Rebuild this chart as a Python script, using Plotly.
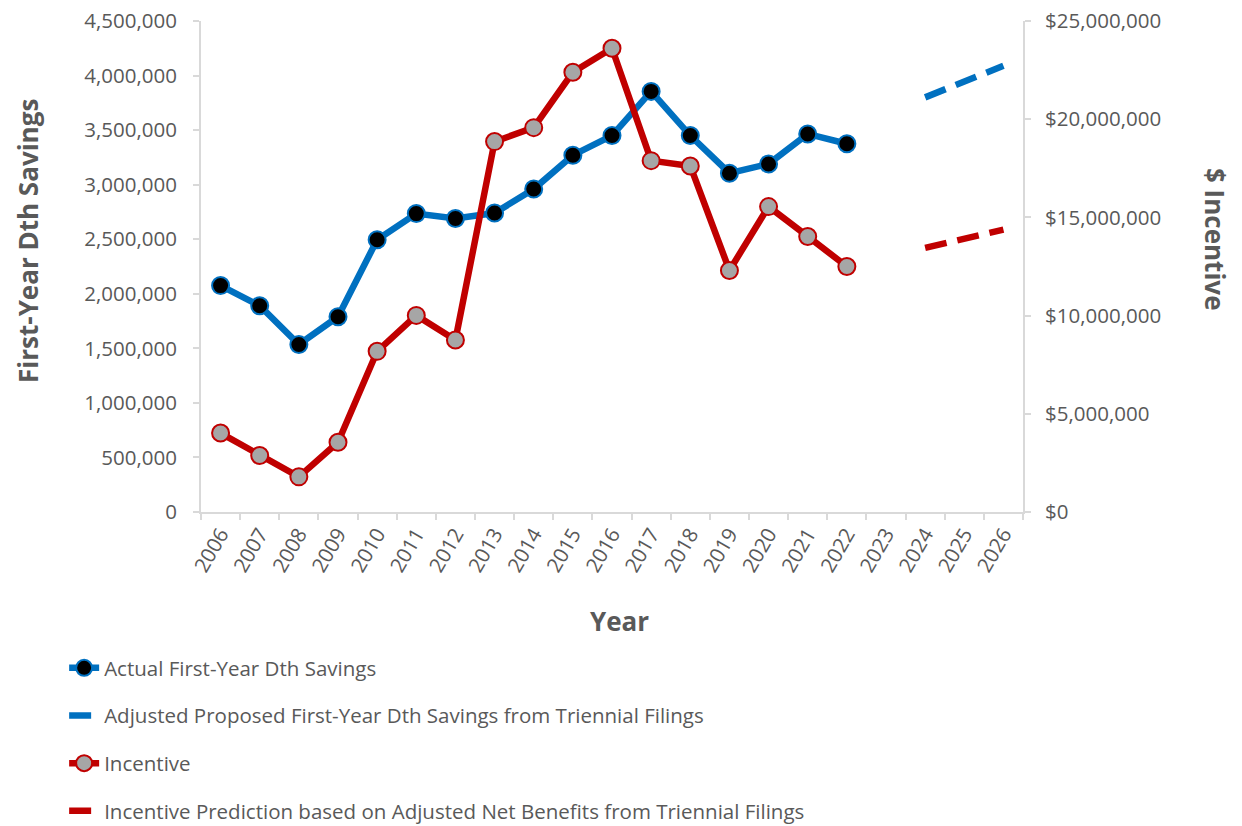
import plotly.graph_objects as go

# Category axis: program years
years = [str(y) for y in range(2006, 2027)]

# Actual first-year Dth savings (left axis)
actual_years = [str(y) for y in range(2006, 2023)]
actual_savings = [2075000, 1890000, 1535000, 1790000, 2495000, 2735000, 2690000,
                  2740000, 2960000, 3270000, 3450000, 3855000, 3450000, 3105000,
                  3190000, 3465000, 3375000]

# Adjusted proposed savings from triennial filings (left axis)
proposed_years = ["2024", "2025", "2026"]
proposed_savings = [3800000, 3940000, 4090000]

# Incentive earned (right axis, dollars)
incentive = [4020000, 2880000, 1790000, 3550000, 8180000, 10010000, 8760000,
             18860000, 19570000, 22390000, 23610000, 17890000, 17620000,
             12300000, 15550000, 14030000, 12500000]

# Incentive prediction from triennial filings (right axis, dollars)
incentive_pred = [13450000, 13900000, 14380000]

BLUE = "#0070C0"
RED = "#C00000"
GRAY_TXT = "#595959"
AXIS = "#D9D9D9"
FONT = "Open Sans"
TICK_FONT = dict(family=FONT, size=20.5, color=GRAY_TXT)
TITLE_FONT = dict(family=FONT, size=26, color=GRAY_TXT)
LW = 6.5

fig = go.Figure()

fig.add_trace(go.Scatter(
    x=actual_years, y=actual_savings, name="Actual First-Year Dth Savings",
    mode="lines+markers", legendgroup="a",
    line=dict(color=BLUE, width=LW),
    marker=dict(color="black", size=17, line=dict(color=BLUE, width=2)),
))
fig.add_trace(go.Scatter(
    x=proposed_years, y=proposed_savings,
    name="Adjusted Proposed First-Year Dth Savings from Triennial Filings",
    mode="lines", legendgroup="b",
    line=dict(color=BLUE, width=LW, dash="22px,11px"),
))
fig.add_trace(go.Scatter(
    x=actual_years, y=incentive, name="Incentive", yaxis="y2",
    mode="lines+markers", legendgroup="c",
    line=dict(color=RED, width=LW),
    marker=dict(color="#A6A6A6", size=17, line=dict(color=RED, width=2)),
))
fig.add_trace(go.Scatter(
    x=proposed_years, y=incentive_pred,
    name="Incentive Prediction based on Adjusted Net Benefits from Triennial Filings",
    yaxis="y2", mode="lines", legendgroup="d",
    line=dict(color=RED, width=LW, dash="22px,11px"),
))

axis_common = dict(
    ticks="outside", ticklen=6, tickcolor=AXIS, tickwidth=2,
    showline=True, linecolor=AXIS, linewidth=2,
    showgrid=False, zeroline=False, automargin=False,
    tickfont=TICK_FONT,
)

fig.update_layout(
    width=1242, height=826,
    margin=dict(l=201, r=219, t=21, b=314, autoexpand=False),
    paper_bgcolor="white", plot_bgcolor="white",
    font=dict(family=FONT, color=GRAY_TXT, size=20),
    showlegend=True,
    legend=dict(
        x=-0.1665, y=-0.277, xanchor="left", yanchor="top",
        orientation="v", tracegroupgap=18,
        font=dict(family=FONT, size=20.5, color=GRAY_TXT),
        bgcolor="rgba(0,0,0,0)",
    ),
    xaxis=dict(
        type="category", categoryorder="array", categoryarray=years,
        tickvals=years, ticktext=years, range=[-0.5, len(years) - 0.5],
        tickangle=-60, tickson="boundaries", **axis_common,
    ),
    yaxis=dict(
        range=[0, 4500000], tick0=0, dtick=500000, tickformat=",d",
        ticklabelstandoff=12, **axis_common,
    ),
    yaxis2=dict(
        overlaying="y", side="right",
        range=[0, 25000000], tick0=0, dtick=5000000, tickformat="$,d",
        ticklabelstandoff=10, **axis_common,
    ),
    annotations=[
        dict(text="<b>First-Year Dth Savings</b>", xref="paper", yref="paper",
             x=-0.2105, y=0.552, xanchor="center", yanchor="middle",
             textangle=-90, showarrow=False, font=TITLE_FONT),
        dict(text="<b>$ Incentive</b>", xref="paper", yref="paper",
             x=1.2336, y=0.556, xanchor="center", yanchor="middle",
             textangle=90, showarrow=False, font=TITLE_FONT),
        dict(text="<b>Year</b>", xref="paper", yref="paper",
             x=0.5097, y=-0.222, xanchor="center", yanchor="middle",
             showarrow=False, font=TITLE_FONT),
    ],
)

fig.write_html("out.html")
